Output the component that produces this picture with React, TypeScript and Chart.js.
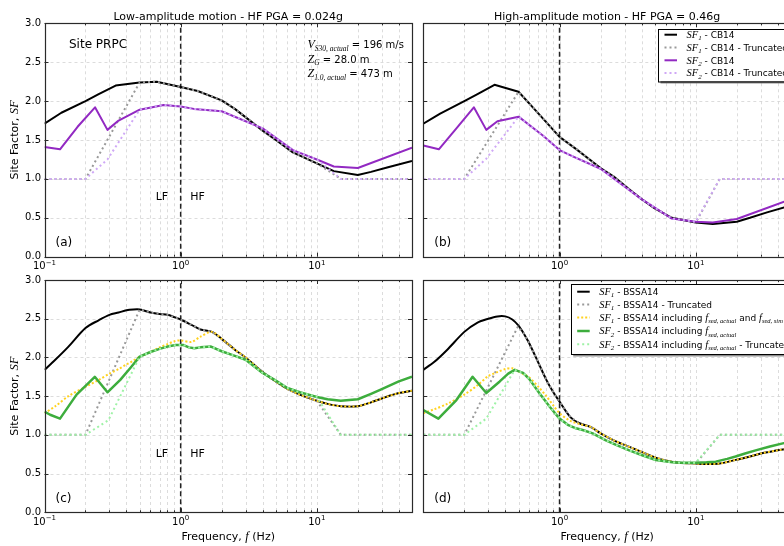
import React, { useEffect, useRef } from 'react';
import { Chart, registerables } from 'chart.js';
Chart.register(...registerables);

// ---------------- data ----------------
const xMin = 0.1;
const xMax = 50;
const yTicks = [0, 0.5, 1, 1.5, 2, 2.5, 3];
const yTickLabels = ['0.0', '0.5', '1.0', '1.5', '2.0', '2.5', '3.0'];
const xMajor = [0.1, 1, 10];
const xMajorExp = ['\u22121', '0', '1'];
const xMinor = [0.2, 0.3, 0.4, 0.5, 0.6, 0.7, 0.8, 0.9, 2, 3, 4, 5, 6, 7, 8, 9, 20, 30, 40];
const splitFreq = 1;

// CB14 (panels a, b)
const cb14Freq = [0.1, 0.133, 0.2, 0.25, 0.333, 0.5, 0.667, 1, 1.333, 2, 2.5, 3.333, 4, 5, 6.667, 10, 13.33, 20, 25, 33.33, 50];
const aSF1 = [1.71, 1.85, 2.0, 2.09, 2.2, 2.24, 2.25, 2.18, 2.13, 2.01, 1.9, 1.73, 1.62, 1.5, 1.34, 1.2, 1.1, 1.05, 1.09, 1.15, 1.23];
const bSF1 = [1.71, 1.84, 2.0, 2.09, 2.21, 2.12, 1.88, 1.54, 1.38, 1.14, 1.03, 0.85, 0.74, 0.62, 0.5, 0.44, 0.42, 0.45, 0.5, 0.57, 0.66];
const cb14TruncFreq = [0.1, 0.2, 0.5, 0.667, 1, 1.333, 2, 2.5, 3.333, 4, 5, 6.667, 10, 15, 50];
const aSF1Trunc = [1, 1, 2.24, 2.25, 2.18, 2.13, 2.01, 1.9, 1.73, 1.62, 1.5, 1.34, 1.2, 1, 1];
const bSF1Trunc = [1, 1, 2.12, 1.88, 1.54, 1.38, 1.14, 1.03, 0.85, 0.74, 0.62, 0.5, 0.44, 1, 1];
const sf2Freq = [0.1, 0.13, 0.175, 0.235, 0.29, 0.35, 0.5, 0.75, 1, 1.25, 2, 4, 6.67, 10, 13.33, 20, 50];
const aSF2 = [1.41, 1.38, 1.67, 1.92, 1.63, 1.75, 1.89, 1.95, 1.93, 1.9, 1.87, 1.65, 1.37, 1.25, 1.16, 1.14, 1.4];
const bSF2 = [1.43, 1.38, 1.65, 1.92, 1.63, 1.74, 1.8, 1.56, 1.37, 1.29, 1.13, 0.74, 0.49, 0.45, 0.44, 0.485, 0.74];
const sf2TruncFreq = [0.1, 0.2, 0.29, 0.5, 0.75, 1, 1.25, 2, 4, 6.67, 10, 15, 50];
const aSF2Trunc = [1, 1, 1.25, 1.89, 1.95, 1.93, 1.9, 1.87, 1.65, 1.37, 1.25, 1, 1];
const bSF2Trunc = [1, 1, 1.26, 1.8, 1.56, 1.37, 1.29, 1.13, 0.74, 0.49, 0.45, 1, 1];

// BSSA14 (panels c, d)
const bssaFreq = [0.1, 0.12, 0.15, 0.2, 0.25, 0.3, 0.35, 0.4, 0.45, 0.5, 0.55, 0.6, 0.7, 0.8, 0.9, 1, 1.2, 1.4, 1.7, 2, 2.5, 3, 4, 5, 6, 7.5, 10, 12, 15, 20, 25, 30, 40, 50];
const cSF1 = [1.84, 1.97, 2.14, 2.38, 2.48, 2.55, 2.58, 2.61, 2.62, 2.62, 2.6, 2.58, 2.56, 2.55, 2.52, 2.49, 2.42, 2.36, 2.33, 2.24, 2.1, 2.0, 1.81, 1.69, 1.6, 1.52, 1.44, 1.4, 1.37, 1.37, 1.42, 1.47, 1.54, 1.57];
const cSF1Sed = [1.28, 1.37, 1.5, 1.62, 1.71, 1.79, 1.85, 1.91, 1.96, 2.01, 2.04, 2.07, 2.13, 2.17, 2.21, 2.22, 2.2, 2.27, 2.33, 2.24, 2.1, 2.0, 1.81, 1.69, 1.6, 1.52, 1.44, 1.4, 1.37, 1.37, 1.42, 1.47, 1.54, 1.57];
const dSF1 = [1.84, 1.94, 2.1, 2.33, 2.45, 2.5, 2.53, 2.53, 2.49, 2.41, 2.3, 2.18, 1.93, 1.71, 1.55, 1.43, 1.23, 1.15, 1.1, 1.02, 0.93, 0.87, 0.78, 0.71, 0.67, 0.64, 0.63, 0.625, 0.63, 0.68, 0.72, 0.76, 0.8, 0.83];
const dSF1Sed = [1.28, 1.33, 1.4, 1.52, 1.64, 1.76, 1.81, 1.85, 1.86, 1.82, 1.78, 1.74, 1.62, 1.5, 1.38, 1.28, 1.18, 1.14, 1.1, 1.02, 0.93, 0.87, 0.78, 0.71, 0.67, 0.64, 0.63, 0.625, 0.63, 0.68, 0.72, 0.76, 0.8, 0.83];
const cSF1TruncFreq = [0.1, 0.2, 0.5, 0.55, 0.6, 0.7, 0.8, 0.9, 1, 1.2, 1.4, 1.7, 2, 2.5, 3, 4, 5, 6, 7.5, 10, 15, 50];
const cSF1Trunc = [1, 1, 2.62, 2.6, 2.58, 2.56, 2.55, 2.52, 2.49, 2.42, 2.36, 2.33, 2.24, 2.1, 2.0, 1.81, 1.69, 1.6, 1.52, 1.44, 1, 1];
const dSF1TruncFreq = [0.1, 0.2, 0.495, 0.55, 0.6, 0.7, 0.8, 0.9, 1, 1.2, 1.4, 1.7, 2, 2.5, 3, 4, 5, 6, 7.5, 10, 15, 50];
const dSF1Trunc = [1, 1, 2.4, 2.3, 2.18, 1.93, 1.71, 1.55, 1.43, 1.23, 1.15, 1.1, 1.02, 0.93, 0.87, 0.78, 0.71, 0.67, 0.64, 0.63, 1, 1];
const cSF2Freq = [0.1, 0.11, 0.13, 0.172, 0.234, 0.29, 0.36, 0.43, 0.5, 0.6, 0.7, 0.8, 0.92, 1.05, 1.15, 1.26, 1.4, 1.67, 2, 2.5, 3, 4, 5, 6, 7.5, 10, 12, 15, 20, 25, 30, 40, 50];
const cSF2 = [1.3, 1.26, 1.21, 1.52, 1.75, 1.55, 1.71, 1.87, 2.01, 2.07, 2.11, 2.14, 2.16, 2.16, 2.13, 2.12, 2.13, 2.14, 2.08, 2.02, 1.97, 1.8, 1.7, 1.61, 1.55, 1.49, 1.46, 1.44, 1.46, 1.53, 1.59, 1.69, 1.75];
const cSF2TruncFreq = [0.1, 0.2, 0.295, 0.5, 0.6, 0.7, 0.8, 0.92, 1.05, 1.15, 1.26, 1.4, 1.67, 2, 2.5, 3, 4, 5, 6, 7.5, 10, 15, 50];
const cSF2Trunc = [1, 1, 1.19, 2.01, 2.07, 2.11, 2.14, 2.16, 2.16, 2.13, 2.12, 2.13, 2.14, 2.08, 2.02, 1.97, 1.8, 1.7, 1.61, 1.55, 1.49, 1, 1];
const dSF2Freq = [0.1, 0.129, 0.175, 0.23, 0.29, 0.364, 0.42, 0.469, 0.54, 0.6, 0.71, 0.85, 1, 1.15, 1.32, 1.5, 1.75, 2.19, 2.6, 3.25, 4, 5.09, 6.74, 8, 10, 12, 14, 17, 19.6, 23, 27.5, 35, 43.5, 50];
const dSF2 = [1.32, 1.21, 1.45, 1.75, 1.54, 1.69, 1.79, 1.84, 1.8, 1.72, 1.54, 1.36, 1.21, 1.13, 1.085, 1.06, 1.02, 0.93, 0.87, 0.8, 0.74, 0.676, 0.645, 0.64, 0.64, 0.645, 0.654, 0.69, 0.72, 0.76, 0.8, 0.85, 0.89, 0.91];
const dSF2TruncFreq = [0.1, 0.2, 0.29, 0.469, 0.54, 0.6, 0.71, 0.85, 1, 1.15, 1.32, 1.5, 1.75, 2.19, 2.6, 3.25, 4, 5.09, 6.74, 8, 10, 15, 50];
const dSF2Trunc = [1, 1, 1.21, 1.84, 1.8, 1.72, 1.54, 1.36, 1.21, 1.13, 1.085, 1.06, 1.02, 0.93, 0.87, 0.8, 0.74, 0.676, 0.645, 0.64, 0.64, 1, 1];

// ---------------- text ----------------
const titleLow = 'Low-amplitude motion - HF PGA = 0.024g';
const titleHigh = 'High-amplitude motion - HF PGA = 0.46g';
const siteName = 'Site PRPC';
const vs30Text = ' = 196 m/s';
const zgText = ' = 28.0 m';
const z10Text = ' = 473 m';

// ---------------- styles ----------------
const CW = 800;
const CH = 546;
const SANS = '"DejaVu Sans", Verdana, sans-serif';
const SERIF = '"Liberation Serif", "DejaVu Serif", serif';
const sans = (s: number) => `${s}px ${SANS}`;
const ital = (s: number) => `italic ${s}px ${SERIF}`;

type Sty = { color: string; width: number; dash: number[] };
const ST: Record<string, Sty> = {
  sf1: { color: '#000000', width: 2, dash: [] },
  sf1T: { color: '#999999', width: 2, dash: [2, 3] },
  cbSf2: { color: '#9229C2', width: 2, dash: [] },
  cbSf2T: { color: '#CFA8F6', width: 2, dash: [2, 3] },
  sed: { color: '#FFD21F', width: 2, dash: [2, 2] },
  grn: { color: '#3DAD3D', width: 2.5, dash: [] },
  grnT: { color: '#9EF2A6', width: 2, dash: [2, 3] },
  split: { color: '#222222', width: 1.5, dash: [5, 3] },
};

type Run = { t: string; f: string; dy?: number };
const SF = (n: string): Run[] => [
  { t: 'SF', f: ital(10.5) },
  { t: n, f: ital(7), dy: 2.5 },
];
const fsed = (s: string): Run[] => [
  { t: 'f', f: ital(10.5) },
  { t: 'sed, ' + s, f: ital(6.5), dy: 2.5 },
];
const txt = (s: string): Run[] => [{ t: s, f: sans(9) }];

type Series = { freq: number[]; vals: number[]; style: Sty; tension?: number };
type LegendItem = { style: Sty; runs: Run[] };
type Panel = {
  area: { l: number; t: number; r: number; b: number };
  series: Series[];
  title?: string;
  yLabels: boolean;
  xLabels: number[];
  xTitle: boolean;
  tag: string;
  lfhf: boolean;
  site: boolean;
  legend?: { x: number; y: number; w: number; h: number; rows: number[]; items: LegendItem[] };
};

const panels: Panel[] = [
  {
    area: { l: 44.5, t: 23.3, r: 412, b: 256.7 },
    series: [
      { freq: cb14Freq, vals: aSF1, style: ST.sf1 },
      { freq: cb14TruncFreq, vals: aSF1Trunc, style: ST.sf1T },
      { freq: sf2Freq, vals: aSF2, style: ST.cbSf2 },
      { freq: sf2TruncFreq, vals: aSF2Trunc, style: ST.cbSf2T },
    ],
    title: titleLow,
    yLabels: true,
    xLabels: [0, 1, 2],
    xTitle: false,
    tag: '(a)',
    lfhf: true,
    site: true,
  },
  {
    area: { l: 423.3, t: 23.3, r: 791, b: 256.7 },
    series: [
      { freq: cb14Freq, vals: bSF1, style: ST.sf1 },
      { freq: cb14TruncFreq, vals: bSF1Trunc, style: ST.sf1T },
      { freq: sf2Freq, vals: bSF2, style: ST.cbSf2 },
      { freq: sf2TruncFreq, vals: bSF2Trunc, style: ST.cbSf2T },
    ],
    title: titleHigh,
    yLabels: false,
    xLabels: [1, 2],
    xTitle: false,
    tag: '(b)',
    lfhf: false,
    site: false,
    legend: {
      x: 658, y: 28.5, w: 132, h: 52.5, rows: [34.7, 47.5, 60.3, 73],
      items: [
        { style: ST.sf1, runs: [...SF('1'), ...txt(' - CB14')] },
        { style: ST.sf1T, runs: [...SF('1'), ...txt(' - CB14 - Truncated')] },
        { style: ST.cbSf2, runs: [...SF('2'), ...txt(' - CB14')] },
        { style: ST.cbSf2T, runs: [...SF('2'), ...txt(' - CB14 - Truncated')] },
      ],
    },
  },
  {
    area: { l: 44.5, t: 280, r: 412, b: 512.3 },
    series: [
      { freq: bssaFreq, vals: cSF1, style: ST.sf1, tension: 0.3 },
      { freq: cSF1TruncFreq, vals: cSF1Trunc, style: ST.sf1T },
      { freq: bssaFreq, vals: cSF1Sed, style: ST.sed, tension: 0.3 },
      { freq: cSF2Freq, vals: cSF2, style: ST.grn },
      { freq: cSF2TruncFreq, vals: cSF2Trunc, style: ST.grnT },
    ],
    yLabels: true,
    xLabels: [0, 1, 2],
    xTitle: true,
    tag: '(c)',
    lfhf: true,
    site: false,
  },
  {
    area: { l: 423.3, t: 280, r: 791, b: 512.3 },
    series: [
      { freq: bssaFreq, vals: dSF1, style: ST.sf1, tension: 0.3 },
      { freq: dSF1TruncFreq, vals: dSF1Trunc, style: ST.sf1T },
      { freq: bssaFreq, vals: dSF1Sed, style: ST.sed, tension: 0.3 },
      { freq: dSF2Freq, vals: dSF2, style: ST.grn },
      { freq: dSF2TruncFreq, vals: dSF2Trunc, style: ST.grnT },
    ],
    yLabels: false,
    xLabels: [1, 2],
    xTitle: true,
    tag: '(d)',
    lfhf: false,
    site: false,
    legend: {
      x: 570.7, y: 284, w: 220, h: 70, rows: [291.7, 304.5, 317.5, 331, 344.3],
      items: [
        { style: ST.sf1, runs: [...SF('1'), ...txt(' - BSSA14')] },
        { style: ST.sf1T, runs: [...SF('1'), ...txt(' - BSSA14 - Truncated')] },
        { style: ST.sed, runs: [...SF('1'), ...txt(' - BSSA14 including '), ...fsed('actual'), ...txt(' and '), ...fsed('sim')] },
        { style: ST.grn, runs: [...SF('2'), ...txt(' - BSSA14 including '), ...fsed('actual')] },
        { style: ST.grnT, runs: [...SF('2'), ...txt(' - BSSA14 including '), ...fsed('actual'), ...txt(' - Truncated')] },
      ],
    },
  },
];

// ---------------- drawing helpers ----------------
function runsWidth(ctx: CanvasRenderingContext2D, runs: Run[]) {
  let w = 0;
  for (const r of runs) {
    ctx.font = r.f;
    w += ctx.measureText(r.t).width;
  }
  return w;
}
function drawRuns(ctx: CanvasRenderingContext2D, x: number, y: number, runs: Run[], align = 'left') {
  const w = runsWidth(ctx, runs);
  let cx = align === 'center' ? x - w / 2 : align === 'right' ? x - w : x;
  ctx.textAlign = 'left';
  ctx.textBaseline = 'alphabetic';
  for (const r of runs) {
    ctx.font = r.f;
    ctx.fillText(r.t, cx, y + (r.dy || 0));
    cx += ctx.measureText(r.t).width;
  }
}

function drawYTitle(ctx: CanvasRenderingContext2D, x: number, y: number) {
  ctx.save();
  ctx.translate(x, y);
  ctx.rotate(-Math.PI / 2);
  drawRuns(ctx, 0, 4, [
    { t: 'Site Factor, ', f: sans(11) },
    { t: 'SF', f: ital(12.5) },
  ], 'center');
  ctx.restore();
}

function makeDecor(p: Panel) {
  return {
    id: 'decor',
    beforeDatasetsDraw(chart: any) {
      const ctx: CanvasRenderingContext2D = chart.ctx;
      const xs = chart.scales.x;
      const ys = chart.scales.y;
      const { left, right, top, bottom } = chart.chartArea;
      ctx.save();
      ctx.strokeStyle = '#d4d4d4';
      ctx.lineWidth = 0.8;
      ctx.setLineDash([3, 3]);
      for (const f of [...xMinor, ...xMajor]) {
        const px = Math.round(xs.getPixelForValue(f)) + 0.5;
        if (px <= left + 1 || px >= right - 1) continue;
        ctx.beginPath();
        ctx.moveTo(px, top);
        ctx.lineTo(px, bottom);
        ctx.stroke();
      }
      for (const v of yTicks) {
        const py = Math.round(ys.getPixelForValue(v)) + 0.5;
        if (py <= top + 1 || py >= bottom - 1) continue;
        ctx.beginPath();
        ctx.moveTo(left, py);
        ctx.lineTo(right, py);
        ctx.stroke();
      }
      ctx.restore();
    },
    afterDatasetsDraw(chart: any) {
      const ctx: CanvasRenderingContext2D = chart.ctx;
      const xs = chart.scales.x;
      const ys = chart.scales.y;
      const { left, right, top, bottom } = chart.chartArea;
      ctx.save();
      ctx.strokeStyle = '#2a2a2a';
      ctx.lineWidth = 1.2;
      ctx.setLineDash([]);
      ctx.strokeRect(Math.round(left) + 0.5, Math.round(top) + 0.5, Math.round(right) - Math.round(left), Math.round(bottom) - Math.round(top));
      ctx.lineWidth = 1;
      const tickX = (f: number, len: number) => {
        const px = Math.round(xs.getPixelForValue(f)) + 0.5;
        ctx.beginPath();
        ctx.moveTo(px, bottom);
        ctx.lineTo(px, bottom - len);
        ctx.moveTo(px, top);
        ctx.lineTo(px, top + len);
        ctx.stroke();
      };
      xMajor.forEach((f) => tickX(f, 4));
      xMinor.forEach((f) => tickX(f, 2));
      for (const v of yTicks) {
        const py = Math.round(ys.getPixelForValue(v)) + 0.5;
        ctx.beginPath();
        ctx.moveTo(left, py);
        ctx.lineTo(left + 4, py);
        ctx.moveTo(right, py);
        ctx.lineTo(right - 4, py);
        ctx.stroke();
      }
      ctx.fillStyle = '#000';
      if (p.yLabels) {
        ctx.font = sans(10);
        ctx.textAlign = 'right';
        ctx.textBaseline = 'middle';
        yTicks.forEach((v, i) => ctx.fillText(yTickLabels[i], left - 3.5, ys.getPixelForValue(v)));
        drawYTitle(ctx, 14, (top + bottom) / 2);
      }
      for (const i of p.xLabels) {
        const px = xs.getPixelForValue(xMajor[i]);
        drawRuns(ctx, px, bottom + 12.5, [
          { t: '10', f: sans(10) },
          { t: xMajorExp[i], f: sans(7), dy: -4.5 },
        ], 'center');
      }
      if (p.xTitle) {
        drawRuns(ctx, (left + right) / 2, 539.5, [
          { t: 'Frequency, ', f: sans(11) },
          { t: 'f', f: ital(12.5) },
          { t: ' (Hz)', f: sans(11) },
        ], 'center');
      }
      if (p.title) {
        drawRuns(ctx, (left + right) / 2, 19.5, [{ t: p.title, f: sans(11) }], 'center');
      }
      drawRuns(ctx, left + 11, bottom - 10.8, [{ t: p.tag, f: sans(12) }]);
      if (p.lfhf) {
        const sx = xs.getPixelForValue(splitFreq);
        drawRuns(ctx, sx - 12.5, top + 176.7, [{ t: 'LF', f: sans(11) }], 'right');
        drawRuns(ctx, sx + 9.5, top + 176.7, [{ t: 'HF', f: sans(11) }]);
      }
      if (p.site) {
        drawRuns(ctx, left + 24.5, top + 24.7, [{ t: siteName, f: sans(12) }]);
        const ax = 307.5;
        drawRuns(ctx, ax, top + 25, [
          { t: 'V', f: ital(12) },
          { t: 'S30, actual', f: ital(7.5), dy: 2.5 },
          { t: vs30Text, f: sans(10) },
        ]);
        drawRuns(ctx, ax, top + 39.4, [
          { t: 'Z', f: ital(12) },
          { t: 'G', f: ital(7.5), dy: 2.5 },
          { t: zgText, f: sans(10) },
        ]);
        drawRuns(ctx, ax, top + 54, [
          { t: 'Z', f: ital(12) },
          { t: '1.0, actual', f: ital(7.5), dy: 2.5 },
          { t: z10Text, f: sans(10) },
        ]);
      }
      if (p.legend) {
        const L = p.legend;
        ctx.fillStyle = 'rgba(0,0,0,0.45)';
        ctx.fillRect(L.x + 2.5, L.y + 2.5, L.w, L.h);
        ctx.fillStyle = '#ffffff';
        ctx.fillRect(L.x, L.y, L.w, L.h);
        ctx.strokeStyle = '#000';
        ctx.lineWidth = 1;
        ctx.strokeRect(Math.round(L.x) + 0.5, Math.round(L.y) + 0.5, L.w, L.h);
        L.items.forEach((it, i) => {
          const cy = L.rows[i];
          ctx.strokeStyle = it.style.color;
          ctx.lineWidth = it.style.width;
          ctx.setLineDash(it.style.dash);
          ctx.beginPath();
          ctx.moveTo(L.x + 6.5, cy);
          ctx.lineTo(L.x + 19, cy);
          ctx.stroke();
          ctx.setLineDash([]);
          ctx.fillStyle = '#000';
          drawRuns(ctx, L.x + 28.5, cy + 3.2, it.runs);
        });
      }
      ctx.restore();
    },
  };
}

function PanelChart({ p }: { p: Panel }) {
  const ref = useRef<HTMLCanvasElement>(null);
  useEffect(() => {
    const a = p.area;
    const datasets: any[] = [
      {
        data: [
          { x: splitFreq, y: yTicks[0] },
          { x: splitFreq, y: yTicks[yTicks.length - 1] },
        ],
        borderColor: ST.split.color,
        borderWidth: ST.split.width,
        borderDash: ST.split.dash,
        pointRadius: 0,
        fill: false,
        order: 0,
      },
      ...p.series.map((s, i) => ({
        data: s.freq.map((f, k) => ({ x: f, y: s.vals[k] })),
        borderColor: s.style.color,
        borderWidth: s.style.width,
        borderDash: s.style.dash,
        borderCapStyle: 'butt',
        borderJoinStyle: 'round',
        pointRadius: 0,
        tension: s.tension || 0,
        fill: false,
        order: -(i + 1), // later series drawn on top, like the reference
      })),
    ];
    const chart = new Chart(ref.current!, {
      type: 'line',
      data: { datasets },
      options: {
        responsive: false,
        animation: false,
        devicePixelRatio: 1,
        events: [],
        layout: { padding: { left: a.l, top: a.t, right: CW - a.r, bottom: CH - a.b } },
        plugins: { legend: { display: false }, tooltip: { enabled: false }, title: { display: false } },
        scales: {
          x: { type: 'logarithmic', min: xMin, max: xMax, display: false },
          y: { type: 'linear', min: yTicks[0], max: yTicks[yTicks.length - 1], display: false },
        },
      } as any,
      plugins: [makeDecor(p)],
    });
    return () => chart.destroy();
  }, [p]);
  return <canvas ref={ref} width={CW} height={CH} style={{ position: 'absolute', left: 0, top: 0 }} />;
}

export default function App() {
  return (
    <div style={{ position: 'fixed', left: 0, top: 0, width: 784, height: 546, overflow: 'hidden', background: '#fff' }}>
      {panels.map((p, i) => (
        <PanelChart key={i} p={p} />
      ))}
    </div>
  );
}
